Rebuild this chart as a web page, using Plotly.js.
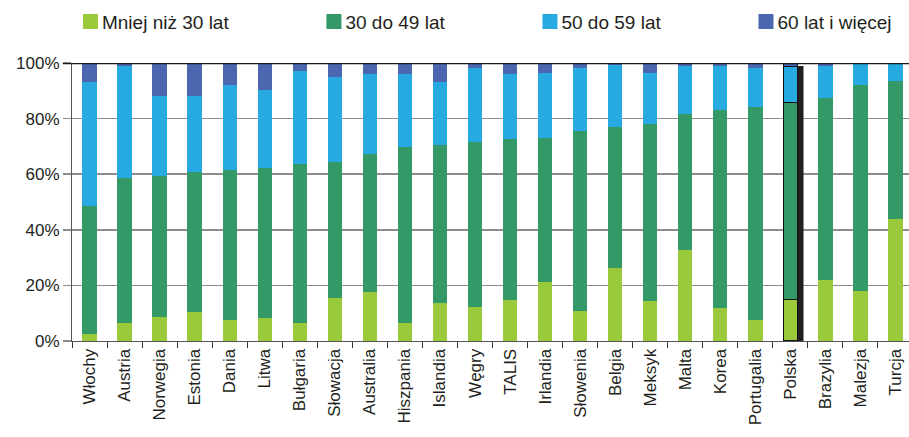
<!DOCTYPE html>
<html>
<head>
<meta charset="utf-8">
<script src="https://cdn.plot.ly/plotly-3.0.1.min.js"></script>
<style>html,body{margin:0;padding:0;background:#fff;}#chart{width:909px;height:437px;}</style>
</head>
<body>
<div id="chart"></div>
<script>
const countries = ["Włochy","Austria","Norwegia","Estonia","Dania","Litwa","Bułgaria","Słowacja","Australia","Hiszpania","Islandia","Węgry","TALIS","Irlandia","Słowenia","Belgia","Meksyk","Malta","Korea","Portugalia","Polska","Brazylia","Malezja","Turcja"];
const under30 = [2.6,6.6,8.8,10.6,7.7,8.1,6.6,15.6,17.8,6.6,13.5,12.4,14.9,21.4,10.9,26.4,14.5,32.6,12.0,7.7,15.0,21.8,18.1,43.8];
const age30to49 = [45.8,51.9,50.7,50.1,53.7,54.0,57.0,48.7,49.4,63.1,56.9,59.1,57.7,51.6,64.6,50.5,63.5,49.0,71.1,76.4,70.7,65.6,74.0,49.7];
const age50to59 = [44.6,40.4,28.6,27.4,30.7,28.2,33.5,30.7,28.8,26.3,22.7,26.7,23.4,23.4,22.7,22.4,18.4,17.3,15.8,14.1,13.0,11.5,7.9,6.5];
const age60plus = [7.0,1.1,11.9,11.9,7.9,9.7,2.9,5.0,4.0,4.0,6.9,1.8,4.0,3.6,1.8,0.7,3.6,1.1,1.1,1.8,1.3,1.1,0.0,0.0];
const seriesNames = ["Mniej niż 30 lat","30 do 49 lat","50 do 59 lat","60 lat i więcej"];
const seriesColors = ["#9aca3c","#339966","#27aae1","#4a67b0"];
const yTicks = [0,20,40,60,80,100];
const highlight = "Polska";

const hIdx = countries.indexOf(highlight);
const lineW = countries.map(c => c === highlight ? 1.2 : 0);
const font = "Liberation Sans, Arial, sans-serif";
const barW = 0.41;

const values = [under30, age30to49, age50to59, age60plus];
const traces = values.map((v, i) => ({
  type: "bar",
  name: seriesNames[i],
  x: countries,
  y: v,
  width: barW,
  marker: {color: seriesColors[i], line: {color: "#111", width: lineW}},
  hoverinfo: "x+y+name"
}));

const layout = {
  width: 909, height: 437,
  margin: {l: 72, r: 0, t: 63, b: 96, pad: 0, autoexpand: false},
  barmode: "stack",
  paper_bgcolor: "#fff", plot_bgcolor: "#fff",
  font: {family: font, size: 17, color: "#231f20"},
  showlegend: true,
  legend: {
    orientation: "h", traceorder: "normal",
    x: -0.0968, xanchor: "left", y: 1.149, yanchor: "middle",
    font: {family: font, size: 19, color: "#231f20"},
    itemwidth: 101,
    bgcolor: "rgba(0,0,0,0)"
  },
  xaxis: {
    type: "category",
    range: [-0.5, countries.length - 1 + 0.385],
    tickangle: -90,
    ticks: "outside", ticklen: 6, tickcolor: "#333", tickwidth: 1,
    tickson: "boundaries",
    showline: true, linecolor: "#555", linewidth: 1,
    showgrid: false,
    tickfont: {family: font, size: 17, color: "#231f20"},
    fixedrange: true
  },
  yaxis: {
    range: [0, 100],
    tickvals: yTicks,
    ticktext: yTicks.map(t => t + "%"),
    ticks: "outside", ticklen: 8, tickcolor: "#8c8c8c", tickwidth: 1.5,
    showline: true, linecolor: "#555", linewidth: 1,
    showgrid: true, gridcolor: "#8c8c8c", gridwidth: 1.5,
    zeroline: false,
    tickfont: {family: font, size: 17, color: "#231f20"},
    fixedrange: true
  },
  shapes: [
    {type: "line", xref: "paper", yref: "y", x0: -0.011, x1: 1, y0: 100, y1: 100,
     line: {color: "#1a1a1a", width: 2.5}, layer: "above"},
    {type: "rect", xref: "x", yref: "y", x0: hIdx - 0.1, x1: hIdx + 0.375, y0: -0.8, y1: 98.9,
     fillcolor: "#231f20", line: {width: 0}, layer: "between"}
  ]
};

// legend swatches: 15px squares placed just left of their label, as in the original
const swatchSize = 15, swatchGap = 4;
Plotly.newPlot("chart", traces, layout, {displayModeBar: false, staticPlot: true}).then(gd => {
  gd.querySelectorAll(".legend g.traces").forEach(item => {
    const t = item.querySelector("text.legendtext");
    const p = item.querySelector("g.legendpoints path");
    if (!t || !p) return;
    const tb = t.getBoundingClientRect();
    const pb = p.getBoundingClientRect();
    const lb = p.getBBox();
    const right = lb.x + lb.width + (tb.left - swatchGap - pb.right);
    const h = swatchSize / 2;
    p.setAttribute("d", "M" + right.toFixed(1) + "," + h + "H" + (right - swatchSize).toFixed(1) + "V" + (-h) + "H" + right.toFixed(1) + "Z");
  });
});
</script>
</body>
</html>
